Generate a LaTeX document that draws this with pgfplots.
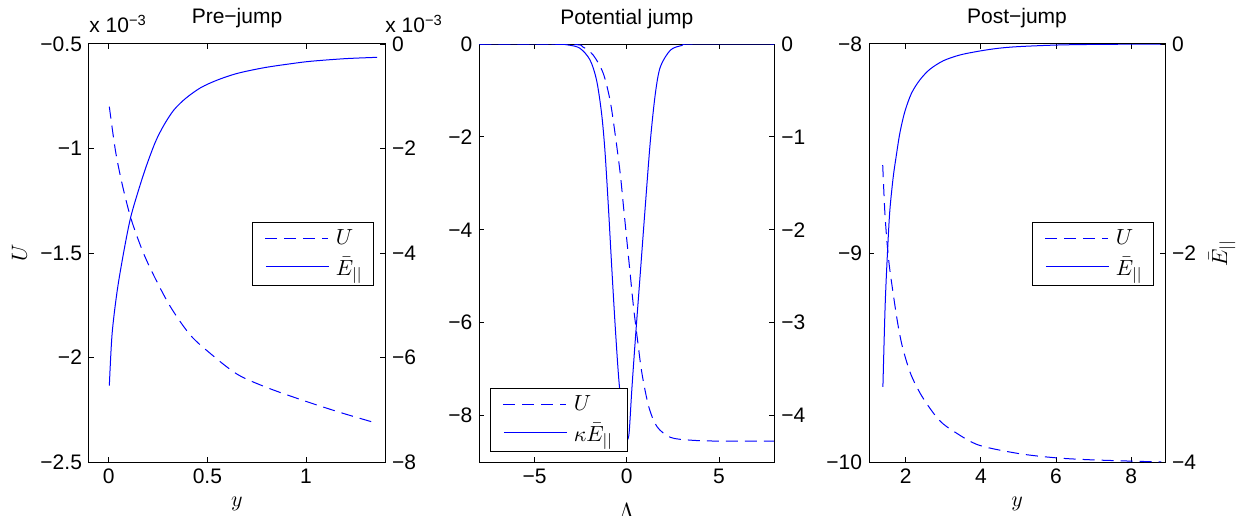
\documentclass[border=0pt]{standalone}
\usepackage{fontspec}
\setmainfont{Liberation Sans}
\usepackage{pgfplots}
\pgfplotsset{compat=1.18}

\pgfplotsset{
  base/.style={
    scale only axis, height=209pt,
    tick align=inside, major tick length=2.5pt,
    tick style={black, line width=0.5pt},
    axis line style={black, line width=0.5pt},
    ticklabel style={font=\fontsize{10.5}{12}\selectfont},
    every axis title shift=0pt,
    every axis title/.style={at={(0.5,1)}, anchor=base, yshift=10pt, font=\fontsize{10.5}{12}\selectfont},
    every axis x label/.style={at={(axis description cs:0.5,0)}, anchor=base, yshift=-22.25pt, font=\fontsize{11}{12}\selectfont},
    every axis y label/.style={at={([xshift=-31pt]axis description cs:0,0.5)}, anchor=base, rotate=90, font=\fontsize{11}{12}\selectfont},
    legend image code/.code={\path (0pt,0pt); \draw[#1, draw=blue, line width=0.5pt] (6.35pt,0pt) -- (37.85pt,0pt); \path (41.35pt,0pt);},
    legend cell align=left,
  },
  solidimg/.style={legend image code/.code={\path (0pt,0pt); \path (41.35pt,0pt);
    \node[inner sep=0pt, anchor=west] at (6.35pt,0pt) {\textcolor{blue}{\rule[-0.25pt]{31.5pt}{0.5pt}}};}},
  rightax/.style={
    axis y line*=right, axis x line=none, ytick pos=right,
    every axis y label/.style={at={([xshift=31pt]axis description cs:1,0.5)}, anchor=base, rotate=90, font=\fontsize{11}{12}\selectfont},
  },
  lgd/.style={legend style={draw=black, line width=0.5pt, fill=white,
    font=\fontsize{11}{13}\selectfont, inner xsep=0pt, inner ysep=1.5pt,
    row sep=1pt, column sep=0pt, nodes={inner xsep=0pt}}},
}

\begin{document}
\begin{tikzpicture}
\useasboundingbox (-44.5pt,-26.5pt) rectangle (575.5pt,231pt);

% ---------------- Panel 1: Pre-jump ----------------
\begin{axis}[base, width=148pt, at={(0pt,0pt)},
  xmin=-0.1, xmax=1.4, ymin=-2.5, ymax=-0.5,
  xtick={0,0.5,1}, xticklabels={0,0.5,1},
  ytick={-2.5,-2,-1.5,-1,-0.5}, yticklabels={−2.5,−2,−1.5,−1,−0.5},
  ytick pos=left,
  title={Pre−jump}, xlabel={$y$}, ylabel={$U$},
  after end axis/.code={
    \node[anchor=base west, font=\fontsize{10.5}{12}\selectfont, inner sep=0pt] at ([yshift=5.5pt]rel axis cs:0,1) {x 10\textsuperscript{−3}};
    \node[anchor=base west, font=\fontsize{10.5}{12}\selectfont, inner sep=0pt] at ([yshift=5.5pt]rel axis cs:1,1) {x 10\textsuperscript{−3}};
  }]
\addplot[draw=blue, line width=0.5pt, dash pattern=on 6pt off 3.5pt, smooth] coordinates {
(0.003,-0.80) (0.034,-1.01) (0.068,-1.17) (0.111,-1.33) (0.163,-1.47)
(0.214,-1.58) (0.308,-1.75) (0.411,-1.89) (0.514,-1.98) (0.651,-2.08)
(0.805,-2.145) (1.0,-2.21) (1.18,-2.265) (1.36,-2.315)};
\end{axis}
\begin{axis}[base, rightax, lgd, width=148pt, at={(0pt,0pt)},
  xmin=-0.1, xmax=1.4, ymin=-8, ymax=0,
  ytick={-8,-6,-4,-2,0}, yticklabels={−8,−6,−4,−2,0},
  legend style={at={(0.963,0.498)}, anchor=east}]
\addplot[draw=blue, line width=0.5pt, smooth, forget plot] coordinates {
(0.003,-6.54) (0.017,-5.55) (0.043,-4.72) (0.077,-3.96) (0.111,-3.32)
(0.154,-2.76) (0.192,-2.32) (0.237,-1.87) (0.28,-1.55) (0.33,-1.263)
(0.39,-1.04) (0.466,-0.836) (0.551,-0.689) (0.653,-0.561) (0.788,-0.453)
(0.924,-0.377) (1.025,-0.33) (1.2,-0.28) (1.36,-0.255)};
\addlegendimage{dash pattern=on 6pt off 3.5pt}
\addlegendentry{$U$}
\addlegendimage{solidimg}
\addlegendentry{$\bar{E}_{||}$\hspace*{5.5pt}}
\end{axis}

% ---------------- Panel 2: Potential jump ----------------
\begin{axis}[base, width=147.5pt, at={(195.15pt,0pt)},
  xmin=-8, xmax=8, ymin=-9, ymax=0,
  xtick={-5,0,5}, xticklabels={−5,0,5},
  ytick={-8,-6,-4,-2,0}, yticklabels={−8,−6,−4,−2,0},
  ytick pos=left,
  title={Potential jump}, xlabel={$\Lambda$},
  every axis x label/.append style={yshift=-5.75pt}]
\addplot[draw=blue, line width=0.5pt, dash pattern=on 6pt off 3.5pt, smooth] coordinates {
(-8,0) (-3.0,-0.01) (-2.4,-0.06) (-1.82,-0.24) (-1.28,-0.63) (-0.91,-1.21)
(-0.64,-1.92) (-0.36,-2.78) (-0.18,-3.5) (0,-4.22) (0.18,-4.94) (0.36,-5.65)
(0.58,-6.37) (0.82,-7.09) (1.19,-7.81) (1.64,-8.24) (2.37,-8.47) (3.47,-8.53)
(5,-8.55) (8,-8.55)};
\end{axis}
\begin{axis}[base, rightax, lgd, width=147.5pt, at={(195.15pt,0pt)},
  xmin=-8, xmax=8, ymin=-4.5, ymax=0,
  ytick={-4,-3,-2,-1,0}, yticklabels={−4,−3,−2,−1,0},
  legend style={at={(0.035,0.025)}, anchor=south west}]
\addplot[draw=blue, line width=0.5pt, smooth, forget plot] coordinates {
(-8,0) (-4,0) (-3.2,-0.01) (-2.55,-0.045) (-2.0,-0.17) (-1.64,-0.39)
(-1.37,-0.745) (-1.19,-1.14) (-1.0,-1.75) (-0.82,-2.395) (-0.64,-3.005)
(-0.46,-3.545) (-0.27,-3.975) (-0.15,-4.2) (-0.05,-4.265) (0.03,-4.265)
(0.13,-4.175) (0.27,-3.725) (0.46,-3.185) (0.73,-2.47) (1.0,-1.75)
(1.28,-1.035) (1.55,-0.53) (1.82,-0.245) (2.37,-0.065) (3.0,-0.015)
(3.5,0) (8,0)};
\addlegendimage{dash pattern=on 6pt off 3.5pt}
\addlegendentry{$U$}
\addlegendimage{solidimg}
\addlegendentry{$\kappa\bar{E}_{||}$\hspace*{7pt}}
\end{axis}

% ---------------- Panel 3: Post-jump ----------------
\begin{axis}[base, width=148pt, at={(390pt,0pt)},
  xmin=1.02, xmax=8.9, ymin=-10, ymax=-8,
  xtick={2,4,6,8}, xticklabels={2,4,6,8},
  ytick={-10,-9,-8}, yticklabels={−10,−9,−8},
  ytick pos=left,
  title={Post−jump}, xlabel={$y$}]
\addplot[draw=blue, line width=0.5pt, dash pattern=on 6pt off 3.5pt, smooth] coordinates {
(1.385,-8.58) (1.44,-8.80) (1.50,-8.95) (1.56,-9.06) (1.644,-9.17)
(1.778,-9.33) (1.911,-9.45) (2.133,-9.58) (2.444,-9.69) (2.889,-9.80)
(3.333,-9.86) (3.955,-9.92) (5.02,-9.96) (6.0,-9.98) (7.0,-9.99) (8.8,-10.0)};
\end{axis}
\begin{axis}[base, rightax, lgd, width=148pt, at={(390pt,0pt)},
  xmin=1.02, xmax=8.9, ymin=-4, ymax=0,
  ytick={-4,-2,0}, yticklabels={−4,−2,0},
  ylabel={$\bar{E}_{||}$},
  legend style={at={(0.963,0.498)}, anchor=east}]
\addplot[draw=blue, line width=0.5pt, smooth, forget plot] coordinates {
(1.39,-3.28) (1.449,-2.51) (1.511,-2.0) (1.573,-1.60) (1.662,-1.28)
(1.733,-1.10) (1.84,-0.855) (1.973,-0.648) (2.15,-0.472) (2.373,-0.344)
(2.64,-0.242) (3.0,-0.16) (3.44,-0.105) (3.97,-0.067) (4.46,-0.041)
(5.0,-0.025) (6.0,-0.01) (7.0,-0.004) (8.8,0)};
\addlegendimage{dash pattern=on 6pt off 3.5pt}
\addlegendentry{$U$}
\addlegendimage{solidimg}
\addlegendentry{$\bar{E}_{||}$\hspace*{5.5pt}}
\end{axis}
\end{tikzpicture}
\end{document}
